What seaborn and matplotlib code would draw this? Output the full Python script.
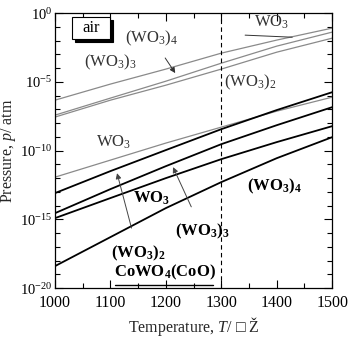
import matplotlib
matplotlib.use("Agg")
import matplotlib.pyplot as plt
import matplotlib.ticker as mticker
from matplotlib.patches import Rectangle
import numpy as np
import pandas as pd
import seaborn as sns

# ---- data (log10 of pressure / atm) ----
T = [1000, 1100, 1200, 1300, 1400, 1500]
# gas phase over WO3 in air (gray)
gas_top = [-6.33, -5.16, -4.07, -2.91, -1.96, -1.09]
gas_mid = [-7.42, -6.18, -4.95, -3.64, -2.40, -1.38]
gas_low = [-7.56, -6.33, -5.24, -4.07, -2.84, -1.82]
gas_wo3_low = [-11.93, -10.69, -9.45, -8.29, -7.13, -6.11]
# over CoWO4(CoO) (black)
co_wo3 = [-13.09, -11.49, -9.96, -8.44, -7.05, -5.75]
co_wo3_2 = [-14.55, -12.80, -11.13, -9.53, -8.15, -6.84]
co_wo3_3 = [-14.91, -13.45, -12.00, -10.62, -9.38, -8.22]
co_wo3_4 = [-18.40, -16.29, -14.18, -12.29, -10.55, -9.02]

x_ticks = [1000, 1100, 1200, 1300, 1400, 1500]
y_ticks = [1e0, 1e-5, 1e-10, 1e-15, 1e-20]

sns.set_style("ticks")
plt.rcParams["font.family"] = ["Liberation Serif", "DejaVu Serif"]
plt.rcParams["mathtext.fontset"] = "custom"
plt.rcParams["mathtext.rm"] = "Liberation Serif"
plt.rcParams["mathtext.it"] = "Liberation Serif:italic"
plt.rcParams["mathtext.bf"] = "Liberation Serif:bold"

fig = plt.figure(figsize=(3.5, 3.37), dpi=100)
ax = fig.add_axes([0.157, 0.145, 0.792, 0.816])

gray = "#8a8a8a"
for vals in [gas_top, gas_mid, gas_low, gas_wo3_low]:
    sns.lineplot(x=T, y=10.0 ** np.array(vals), color=gray, lw=0.9, ax=ax)
for vals in [co_wo3, co_wo3_2, co_wo3_3, co_wo3_4]:
    sns.lineplot(x=T, y=10.0 ** np.array(vals), color="black", lw=1.3, ax=ax)

ax.axvline(1300, color="black", lw=0.8, ls=(0, (4, 3)))

ax.set_yscale("log")
ax.set_xlim(1000, 1500)
ax.set_ylim(1e-20, 1e0)
ax.xaxis.set_major_locator(mticker.FixedLocator(x_ticks))
ax.xaxis.set_minor_locator(mticker.MultipleLocator(50))
ax.yaxis.set_major_locator(mticker.FixedLocator(y_ticks))
ax.yaxis.set_minor_locator(mticker.FixedLocator([10.0 ** -k for k in range(0, 21)]))
ax.yaxis.set_major_formatter(mticker.LogFormatterSciNotation())
ax.yaxis.set_minor_formatter(mticker.NullFormatter())
ax.tick_params(which="both", direction="in", top=True, right=True, colors="black",
               labelsize=11.5, width=0.8)
ax.tick_params(which="major", length=6)
ax.tick_params(which="minor", length=3.5)
ax.tick_params(axis="x", pad=5)
ax.tick_params(axis="y", pad=2, labelsize=10.5)
for s in ax.spines.values():
    s.set_linewidth(0.9)
    s.set_color("black")

ax.set_xlabel("Temperature, $T$/ \u25a1 \u017d", fontsize=11.5, va="top")
ax.xaxis.set_label_coords(0.5, -0.098)
ax.set_ylabel("Pressure, $p$/ atm", fontsize=11.5)
ax.yaxis.set_label_coords(-0.135, 0.5)

tc = "#333333"
fs = 12
def P(v):
    return 10.0 ** v

# air box with shadow (axes fraction)
ax.add_patch(Rectangle((0.072, 0.894), 0.138, 0.080, transform=ax.transAxes,
                       fc="black", ec="black", lw=0.8, zorder=4))
ax.add_patch(Rectangle((0.061, 0.905), 0.138, 0.080, transform=ax.transAxes,
                       fc="white", ec="black", lw=0.8, zorder=5))
ax.text(0.130, 0.945, "air", fontsize=fs, color="black", ha="center", va="center",
        transform=ax.transAxes, zorder=6)

ax.text(1099, P(-3.56), r"$\mathrm{(WO_3)_3}$", fontsize=fs, color=tc, ha="center", va="center")
ax.annotate(r"$\mathrm{(WO_3)_4}$", xy=(1217, P(-4.36)), xytext=(1175, P(-1.82)),
            fontsize=fs, color=tc, ha="center", va="center",
            arrowprops=dict(arrowstyle="-|>", color="#333333", lw=0.7, mutation_scale=8,
                            shrinkA=6, shrinkB=0))
ax.text(1390, P(-0.65), r"$\mathrm{WO_3}$", fontsize=fs, color=tc, ha="center", va="center")
ax.plot([1343, 1428], [P(-1.6), P(-1.75)], color="#333333", lw=0.7)
ax.text(1352, P(-5.02), r"$\mathrm{(WO_3)_2}$", fontsize=fs, color=tc, ha="center", va="center")
ax.text(1105, P(-9.38), r"$\mathrm{WO_3}$", fontsize=fs, color=tc, ha="center", va="center")

ax.text(1175, P(-13.45), r"$\mathbf{WO_3}$", fontsize=fs, color="black", ha="center", va="center")
ax.annotate(r"$\mathbf{(WO_3)_2}$", xy=(1112, P(-11.64)), xytext=(1150, P(-17.45)),
            fontsize=fs, color="black", ha="center", va="center",
            arrowprops=dict(arrowstyle="-|>", color="#444444", lw=0.7, mutation_scale=8,
                            shrinkA=9, shrinkB=0))
ax.annotate(r"$\mathbf{(WO_3)_3}$", xy=(1213, P(-11.2)), xytext=(1266, P(-15.85)),
            fontsize=fs, color="black", ha="center", va="center",
            arrowprops=dict(arrowstyle="-|>", color="#444444", lw=0.7, mutation_scale=8,
                            shrinkA=9, shrinkB=0))
ax.text(1395, P(-12.58), r"$\mathbf{(WO_3)_4}$", fontsize=fs, color="black", ha="center", va="center")
ax.text(1199, P(-18.84), r"$\mathbf{CoWO_4(CoO)}$", fontsize=fs, color="black", ha="center", va="center")
ax.plot([1108, 1285], [P(-19.78), P(-19.78)], color="black", lw=1.0)

fig.savefig("out.png", dpi=100)
